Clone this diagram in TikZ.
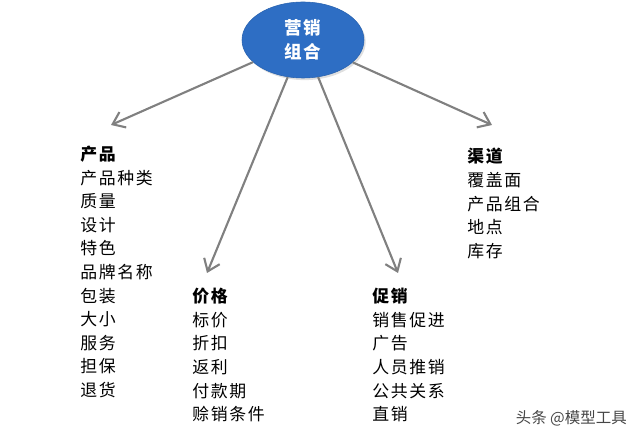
\documentclass[tikz,border=0pt]{standalone}
\usepackage{fontspec}
\newfontfamily\cjk[LetterSpace=10]{Noto Sans CJK SC}
\newfontfamily\cjkwm{Noto Sans CJK SC}
\usepackage{tikz}
\usetikzlibrary{arrows.meta,shapes.geometric,positioning,shadows}
\definecolor{hubblue}{RGB}{46,110,196}
\definecolor{linkgray}{RGB}{128,128,128}
\definecolor{markgray}{RGB}{70,70,70}
\tikzset{
    % Central ellipse (the 4P hub)
    hub/.style={
        ellipse, fill=hubblue, draw=hubblue!90!black, line width=0.4pt,
        drop shadow={shadow xshift=1.2pt,shadow yshift=-1.5pt,opacity=0.25},
        minimum width=3.05cm, minimum height=1.9cm, inner sep=0pt,
        text=white, font=\cjk\bfseries\fontsize{12.5pt}{17pt}\selectfont,
        align=center
    },
    % Gray link with open barb tip
    link/.style={
        draw=linkgray, line width=1.5pt,
        -{Straight Barb[length=2.8mm,width=4.2mm]}
    },
    % Heading + item list
    itemlist/.style={
        anchor=north west, align=left, inner sep=0pt,
        font=\cjk\fontsize{12pt}{16.8pt}\selectfont
    },
    % Corner watermark
    watermark/.style={
        anchor=east, inner sep=0pt, text=markgray,
        font=\cjkwm\fontsize{11pt}{13pt}\selectfont
    },
}
\begin{document}
\begin{tikzpicture}
  \useasboundingbox (0,0) rectangle (16,11);

  % --- hub ---
  \node[hub] (hub) at (7.575,10.0) {营销\\组合};

  % --- the four lists ---
  \node[itemlist] (product) at (2.0,7.36)
      {\textbf{产品}\\产品种类\\质量\\设计\\特色\\品牌名称\\包装\\大小\\服务\\担保\\退货};
  \node[itemlist] (price) at (4.8,3.8)
      {\textbf{价格}\\标价\\折扣\\返利\\付款期\\赊销条件};
  \node[itemlist] (promo) at (9.3,3.8)
      {\textbf{促销}\\销售促进\\广告\\人员推销\\公共关系\\直销};
  \node[itemlist] (place) at (11.675,7.3)
      {\textbf{渠道}\\覆盖面\\产品组合\\地点\\库存};

  % arrow tips, just above each heading
  \coordinate (productTip) at (2.775,7.875);
  \coordinate (priceTip)   at (5.175,4.175);
  \coordinate (promoTip)   at (9.95,4.175);
  \coordinate (placeTip)   at (12.3,7.875);

  % --- links ---
  \draw[link] (hub) -- (productTip);
  \draw[link] (hub) -- (priceTip);
  \draw[link] (hub) -- (promoTip);
  \draw[link] (hub) -- (placeTip);

  % watermark
  \node[watermark] (mark) at (15.675,0.55) {头条 @模型工具};
\end{tikzpicture}
\end{document}
